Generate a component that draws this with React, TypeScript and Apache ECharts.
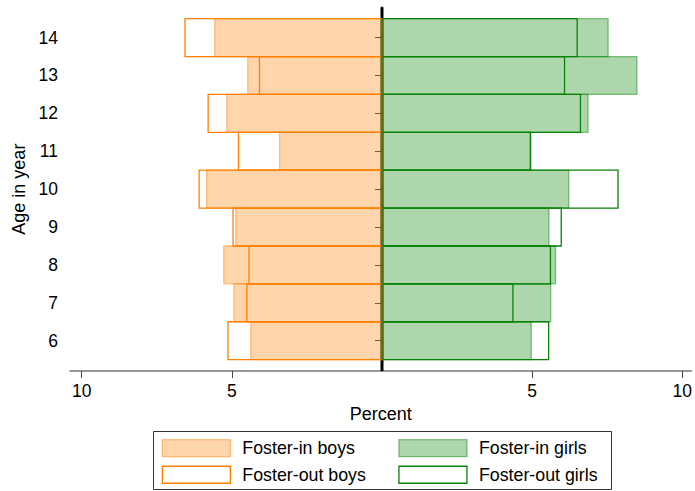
import React, { useEffect, useRef } from "react";
import * as echarts from "echarts";

const ages = [6, 7, 8, 9, 10, 11, 12, 13, 14];
const fosterInBoys = [4.37, 4.93, 5.27, 4.87, 5.84, 3.41, 5.17, 4.47, 5.57];
const fosterOutBoys = [5.13, 4.5, 4.43, 4.96, 6.09, 4.78, 5.79, 4.08, 6.56];
const fosterInGirls = [4.97, 5.62, 5.78, 5.56, 6.22, 4.96, 6.86, 8.49, 7.53];
const fosterOutGirls = [5.55, 4.36, 5.61, 5.97, 7.86, 4.94, 6.61, 6.08, 6.5];
const xTicks = [-10, -5, 5, 10];

const FONT = "'Liberation Sans', Arial, sans-serif";

const inBoysStyle = { fill: "rgba(255,128,0,0.33)", stroke: "rgba(255,128,0,0.45)", lineWidth: 1.3 };
const outBoysStyle = { fill: "rgba(255,255,255,0)", stroke: "#ff8000", lineWidth: 1.3 };
const inGirlsStyle = { fill: "rgba(0,128,0,0.32)", stroke: "rgba(0,128,0,0.45)", lineWidth: 1.3 };
const outGirlsStyle = { fill: "rgba(255,255,255,0)", stroke: "#0a820a", lineWidth: 1.3 };

function makeRender(style: any) {
  return (params: any, api: any) => {
    const v = api.value(0);
    const age = api.value(1);
    const p0 = api.coord([0, age + 0.5]);
    const p1 = api.coord([v, age - 0.5]);
    return {
      type: "rect",
      shape: {
        x: Math.min(p0[0], p1[0]),
        y: Math.min(p0[1], p1[1]),
        width: Math.abs(p1[0] - p0[0]),
        height: Math.abs(p1[1] - p0[1]),
      },
      style: { ...style },
    };
  };
}

export default function App() {
  const ref = useRef<HTMLDivElement>(null);
  useEffect(() => {
    if (!ref.current) return;
    const chart = echarts.init(ref.current, null, { renderer: "svg" });
    const boysIn = ages.map((a, i) => [-fosterInBoys[i], a]);
    const boysOut = ages.map((a, i) => [-fosterOutBoys[i], a]);
    const girlsIn = ages.map((a, i) => [fosterInGirls[i], a]);
    const girlsOut = ages.map((a, i) => [fosterOutGirls[i], a]);
    const legendText = { fontSize: 17.8, fontFamily: FONT, color: "#000", padding: [0, 0, 0, 7] };
    chart.setOption({
      animation: false,
      grid: { left: 70, right: 2, top: 7.3, bottom: 120 },
      xAxis: {
        type: "value",
        min: -10.39,
        max: 10.31,
        name: "Percent",
        nameLocation: "middle",
        nameGap: 30,
        nameTextStyle: { fontSize: 18, fontFamily: FONT, color: "#000" },
        axisLine: { show: true, lineStyle: { color: "#777", width: 1.5 } },
        axisTick: { show: true, customValues: xTicks, length: 7, lineStyle: { color: "#444" } },
        axisLabel: {
          customValues: xTicks,
          formatter: (v: number) => String(Math.abs(v)),
          fontSize: 17.5,
          fontFamily: FONT,
          color: "#000",
          margin: 11,
        },
        splitLine: { show: false },
      },
      yAxis: {
        type: "value",
        min: 5.2,
        max: 14.8,
        name: "Age in year",
        nameLocation: "middle",
        nameGap: 40,
        nameRotate: 90,
        nameTextStyle: { fontSize: 18, fontFamily: FONT, color: "#000" },
        axisLine: { show: true, lineStyle: { color: "#777", width: 2 } },
        axisTick: { show: true, customValues: ages, length: 7, lineStyle: { color: "#444" } },
        axisLabel: { customValues: ages, fontSize: 17.5, fontFamily: FONT, color: "#000", margin: 12 },
        splitLine: { show: false },
      },
      legend: [
        {
          orient: "vertical",
          left: 161.7,
          top: 439,
          padding: 0,
          itemWidth: 68,
          itemHeight: 17,
          itemGap: 8.3,
          selectedMode: false,
          textStyle: legendText,
          data: [
            { name: "Foster-in boys", icon: "rect", itemStyle: { color: inBoysStyle.fill, borderColor: inBoysStyle.stroke, borderWidth: 1.3 } },
            { name: "Foster-out boys", icon: "rect", itemStyle: { color: "#fff", borderColor: outBoysStyle.stroke, borderWidth: 1.3 } },
          ],
        },
        {
          orient: "vertical",
          left: 398.3,
          top: 439,
          padding: 0,
          itemWidth: 68,
          itemHeight: 17,
          itemGap: 8.3,
          selectedMode: false,
          textStyle: legendText,
          data: [
            { name: "Foster-in girls", icon: "rect", itemStyle: { color: inGirlsStyle.fill, borderColor: inGirlsStyle.stroke, borderWidth: 1.3 } },
            { name: "Foster-out girls", icon: "rect", itemStyle: { color: "#fff", borderColor: outGirlsStyle.stroke, borderWidth: 1.3 } },
          ],
        },
      ],
      graphic: [
        {
          type: "rect",
          shape: { x: 153.5, y: 431.5, width: 458, height: 58 },
          style: { fill: "none", stroke: "#333", lineWidth: 1 },
          silent: true,
        },
      ],
      series: [
        {
          type: "line",
          name: "zero",
          data: [[0, 5.2], [0, 14.8]],
          symbol: "none",
          lineStyle: { color: "#000", width: 3 },
          z: 1,
          silent: true,
        },
        { type: "custom", name: "Foster-in boys", data: boysIn, renderItem: makeRender(inBoysStyle), itemStyle: { color: inBoysStyle.fill }, z: 2 },
        { type: "custom", name: "Foster-in girls", data: girlsIn, renderItem: makeRender(inGirlsStyle), itemStyle: { color: inGirlsStyle.fill }, z: 2 },
        { type: "custom", name: "Foster-out boys", data: boysOut, renderItem: makeRender(outBoysStyle), itemStyle: { color: "#fff" }, z: 3 },
        { type: "custom", name: "Foster-out girls", data: girlsOut, renderItem: makeRender(outGirlsStyle), itemStyle: { color: "#fff" }, z: 3 },
      ],
    });
    return () => chart.dispose();
  }, []);
  return <div ref={ref} style={{ position: "fixed", left: 0, top: 0, width: 695, height: 491, background: "#fff" }} />;
}
